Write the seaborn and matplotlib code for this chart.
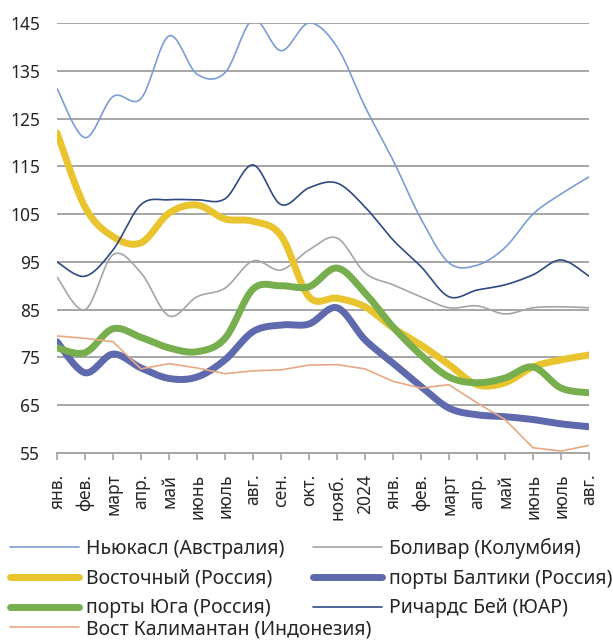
import numpy as np
import pandas as pd
import seaborn as sns
import matplotlib.pyplot as plt

# --- month labels (x axis) ---
months = ["янв.", "фев.", "март", "апр.", "май", "июнь", "июль", "авг.", "сен.", "окт.",
          "нояб.", "2024", "янв.", "фев.", "март", "апр.", "май", "июнь", "июль", "авг."]

# --- series values ---
newcastle = [131.3, 121.0, 129.6, 129.2, 142.3, 134.3, 134.6, 145.7, 139.2, 145.0,
             140.0, 127.5, 116.3, 104.0, 94.8, 94.3, 98.0, 105.0, 109.2, 112.8]
bolivar = [91.8, 85.0, 96.5, 92.7, 83.7, 87.7, 89.5, 95.2, 93.3, 97.5,
           100.0, 92.7, 90.2, 87.7, 85.4, 85.8, 84.1, 85.4, 85.6, 85.4]
vostochny = [122.0, 106.5, 100.3, 99.0, 105.2, 106.9, 104.0, 103.5, 100.5, 87.7,
             87.4, 85.6, 81.2, 77.6, 73.5, 69.3, 69.7, 73.0, 74.5, 75.5]
baltic = [78.3, 71.8, 75.7, 72.8, 70.6, 70.9, 74.5, 80.4, 81.8, 82.0,
          85.4, 78.7, 73.8, 68.9, 64.4, 63.0, 62.6, 62.0, 61.1, 60.5]
south = [77.0, 76.0, 81.0, 79.2, 77.0, 76.2, 79.0, 89.3, 90.0, 89.8,
         93.7, 88.5, 81.4, 75.5, 70.9, 69.7, 70.7, 73.0, 68.6, 67.6]
richards = [95.0, 92.0, 97.5, 107.0, 108.0, 108.0, 108.2, 115.3, 107.0, 110.5,
            111.5, 106.5, 99.6, 94.0, 87.7, 89.1, 90.2, 92.3, 95.4, 92.0]
kalimantan = [79.5, 79.0, 78.3, 72.6, 73.7, 72.8, 71.6, 72.2, 72.4, 73.4,
              73.5, 72.6, 70.0, 68.6, 69.3, 65.5, 62.0, 56.1, 55.4, 56.6]

names = ["Ньюкасл (Австралия)", "Боливар (Колумбия)", "Восточный (Россия)",
         "порты Балтики (Россия)", "порты Юга (Россия)", "Ричардс Бей (ЮАР)",
         "Вост Калимантан (Индонезия)"]
series = [newcastle, bolivar, vostochny, baltic, south, richards, kalimantan]
colors = ["#7b9dd6", "#a5a5a5", "#e9c42f", "#5e69ae", "#77ae4e", "#2f4a82", "#e8a882"]
widths = [1.2, 1.2, 5.0, 5.0, 5.0, 1.2, 1.2]
smooth = [True, True, True, True, True, True, False]


def smooth_curve(x, y, n=24):
    # Excel-style smoothed line: cubic Bezier through each point
    x = np.asarray(x, float)
    y = np.asarray(y, float)
    px = np.concatenate([[x[0]], x, [x[-1]]])
    py = np.concatenate([[y[0]], y, [y[-1]]])
    t = np.linspace(0, 1, n)[:, None]
    xs, ys = [], []
    for i in range(1, len(px) - 2):
        c1x = px[i] + (px[i + 1] - px[i - 1]) / 6
        c1y = py[i] + (py[i + 1] - py[i - 1]) / 6
        c2x = px[i + 1] - (px[i + 2] - px[i]) / 6
        c2y = py[i + 1] - (py[i + 2] - py[i]) / 6
        bx = ((1 - t) ** 3 * px[i] + 3 * (1 - t) ** 2 * t * c1x
              + 3 * (1 - t) * t ** 2 * c2x + t ** 3 * px[i + 1])
        by = ((1 - t) ** 3 * py[i] + 3 * (1 - t) ** 2 * t * c1y
              + 3 * (1 - t) * t ** 2 * c2y + t ** 3 * py[i + 1])
        xs.append(bx.ravel())
        ys.append(by.ravel())
    return np.concatenate(xs), np.concatenate(ys)


sns.set_theme(style="white")
plt.rcParams["font.family"] = ["Noto Sans", "DejaVu Sans"]

fig = plt.figure(figsize=(6.13, 6.42), dpi=100)
ax = fig.add_axes([57 / 613, 1 - 453 / 642, 532 / 613, 430 / 642])

xpos = np.arange(len(months))
handles = {}
for name, vals, col, lw, sm in zip(names, series, colors, widths, smooth):
    if sm:
        xs, ys = smooth_curve(xpos, vals)
    else:
        xs, ys = xpos, np.asarray(vals)
    df = pd.DataFrame({"x": xs, "y": ys})
    sns.lineplot(data=df, x="x", y="y", sort=False, color=col, linewidth=lw,
                 ax=ax, solid_capstyle="round", estimator=None)
    handles[name] = ax.lines[-1]

ax.set_xlim(0, len(months) - 1)
ax.set_ylim(55, 145)
ax.set_yticks(np.arange(55, 146, 10))
ax.set_xticks(xpos)
ax.set_xticklabels(months, rotation=90, fontsize=12.5)
ax.tick_params(axis="y", labelsize=12.5, length=0, pad=12)
ax.tick_params(axis="x", length=5, width=1.2, color="#a6a6a6", bottom=True, pad=10)
ax.set_xlabel("")
ax.set_ylabel("")
ax.grid(axis="y", color="#a6a6a6", linewidth=1.4)
ax.set_axisbelow(True)
for s in ["left", "right", "top"]:
    ax.spines[s].set_visible(False)
ax.spines["bottom"].set_color("#a6a6a6")
ax.spines["bottom"].set_linewidth(1.4)
ax.spines["bottom"].set_zorder(0)

# legend: first six entries in two columns (row-major), last one on its own row
leg_kw = dict(loc="upper left", frameon=False, fontsize=14, handlelength=3.55,
              handletextpad=0.36, labelspacing=0.5, borderaxespad=0, borderpad=0)
order = [0, 2, 4, 1, 3, 5]
fig.legend([handles[names[i]] for i in order], [names[i] for i in order],
           ncol=2, columnspacing=1.45, bbox_to_anchor=(10 / 613, 1 - 538 / 642), **leg_kw)
fig.legend([handles[names[6]]], [names[6]], ncol=1,
           bbox_to_anchor=(10 / 613, 1 - 619 / 642), **leg_kw)

fig.savefig("out.png", dpi=100)
